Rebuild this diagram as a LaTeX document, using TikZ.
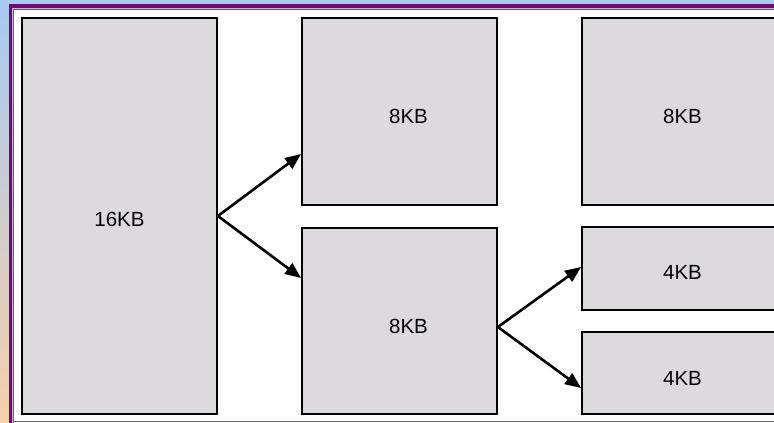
\documentclass[tikz,border=0pt]{standalone}
\usepackage{fontspec}
\setmainfont{Liberation Sans}
\usetikzlibrary{arrows.meta}
\definecolor{bgblue}{RGB}{166,202,242}
\definecolor{bgpeach}{RGB}{246,208,170}
\definecolor{frameD}{RGB}{108,10,118}
\definecolor{frameM}{RGB}{150,70,165}
\definecolor{frameL}{RGB}{200,170,215}
\definecolor{boxfill}{RGB}{220,218,220}
\begin{document}
\begin{tikzpicture}[x=1pt,y=-1pt,
  blk/.style={draw=black, line width=1.8pt, fill=boxfill, inner sep=0pt, minimum width=195pt},
  lbl/.style={font=\fontsize{20.5}{24}\selectfont, inner sep=0pt},
  arr/.style={line width=2.6pt, -{Triangle[length=16pt,width=13pt]}}]
\useasboundingbox (0,0) rectangle (774,423);
% background and frame
\shade[top color=bgblue, bottom color=bgpeach] (0,0) rectangle (774,423);
\fill[white] (9,4) rectangle (780,430);
\fill[frameD] (9,4) rectangle (780,8.2);
\fill[frameD] (9,4) rectangle (12.2,430);
\fill[frameL] (12.2,8.2) rectangle (780,9);
\fill[frameL] (12.2,8.2) rectangle (13,430);
\fill[frameM] (13,9) rectangle (780,10.3);
\fill[frameM] (13,9) rectangle (14.3,430);
\fill[frameM] (14.3,420.8) rectangle (780,422.2);
% blocks
\node[blk, minimum height=396pt] (k16) at (119.5,216) {};
\node[blk, minimum height=187pt] (m1) at (399.5,111.5) {};
\node[blk, minimum height=186pt] (m2) at (399.5,321) {};
\node[blk, minimum height=187pt] (r1) at (679.5,111.5) {};
\node[blk, minimum height=83pt] (r2) at (679.5,268.5) {};
\node[blk, minimum height=82pt] (r3) at (679.5,373) {};
% labels
\node[lbl] (t16) at ([xshift=0pt,yshift=-3pt]k16.center) {16KB};
\node[lbl] (tm1) at ([xshift=9pt,yshift=-4.5pt]m1.center) {8KB};
\node[lbl] (tm2) at ([xshift=9pt,yshift=-5pt]m2.center) {8KB};
\node[lbl] (tr1) at ([xshift=3pt,yshift=-4.5pt]r1.center) {8KB};
\node[lbl] (tr2) at ([xshift=3pt,yshift=-3.5pt]r2.center) {4KB};
\node[lbl] (tr3) at ([xshift=3pt,yshift=-5pt]r3.center) {4KB};
% arrows
\draw[arr] (k16.east) -- ([yshift=-42.5pt]m1.west);
\draw[arr] (k16.east) -- ([yshift=43pt]m2.west);
\draw[arr] ([yshift=-6pt]m2.east) -- ([yshift=1.5pt]r2.west);
\draw[arr] ([yshift=-6pt]m2.east) -- ([yshift=-15pt]r3.west);
\end{tikzpicture}
\end{document}
